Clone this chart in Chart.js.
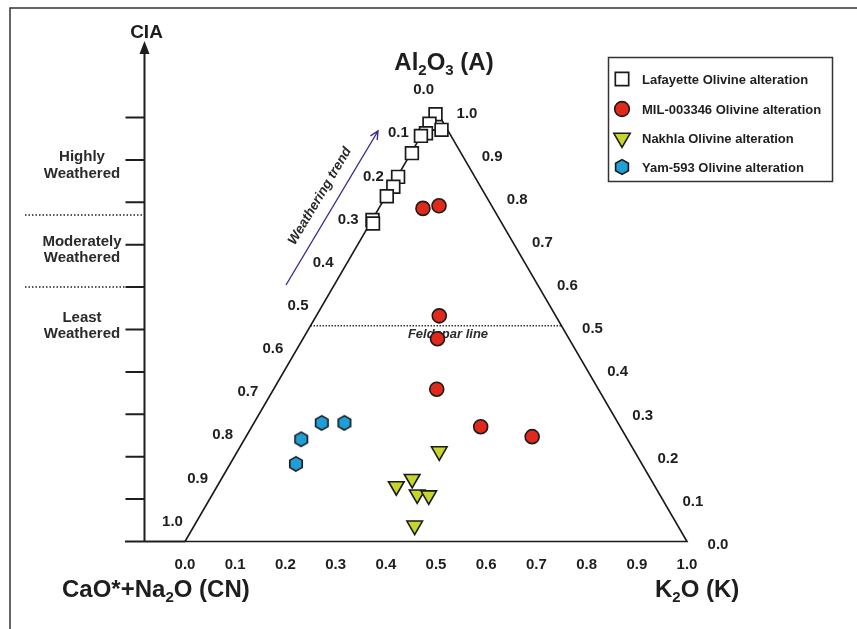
<!DOCTYPE html>
<html>
<head>
<meta charset="utf-8">
<script src="https://cdn.jsdelivr.net/npm/chart.js@4.4.0/dist/chart.umd.min.js"></script>
<style>
  html, body { margin: 0; padding: 0; background: #fff; }
  canvas { display: block; }
</style>
</head>
<body>
<canvas id="ternary" width="857" height="629"></canvas>
<script>
// ternary values, A = Al2O3, K = K2O, CN = 1 - A - K
const seriesNames = ['Lafayette Olivine alteration', 'MIL-003346 Olivine alteration', 'Nakhla Olivine alteration', 'Yam-593 Olivine alteration'];

const lafayetteA = [0.99, 0.968, 0.954, 0.946, 0.94, 0.90, 0.845, 0.822, 0.80, 0.745, 0.737];
const lafayetteK = [0.004, 0.003, 0.034, 0.007, 0.0, 0.002, 0.002, 0.004, 0.002, 0.001, 0.006];

const milA = [0.772, 0.778, 0.523, 0.47, 0.353, 0.266, 0.243];
const milK = [0.088, 0.117, 0.245, 0.268, 0.325, 0.456, 0.570];

const nakhlaA = [0.209, 0.145, 0.128, 0.109, 0.107, 0.037];
const nakhlaK = [0.402, 0.380, 0.357, 0.408, 0.432, 0.439];

const yamA = [0.275, 0.275, 0.237, 0.180];
const yamK = [0.135, 0.180, 0.113, 0.131];

const tickValues = [0.0, 0.1, 0.2, 0.3, 0.4, 0.5, 0.6, 0.7, 0.8, 0.9, 1.0];
const ciaTickCount = 10;
const feldsparA = 0.5;

const H = Math.sqrt(3) / 2;
function toXY(a, k) { return { x: k + a / 2, y: a * H }; }
function points(aList, kList) { return aList.map((a, i) => toXY(a, kList[i])); }

const FONT = '"Liberation Sans", Arial, sans-serif';
const INK = '#1e1e1e';

// hexagon marker for Yam-593
function hexMarker(r) {
  const c = document.createElement('canvas');
  const s = Math.ceil(r * 2 + 3);
  c.width = s; c.height = s;
  const g = c.getContext('2d');
  g.beginPath();
  for (let i = 0; i < 6; i++) {
    const ang = Math.PI / 2 + i * Math.PI / 3;
    g.lineTo(s / 2 + r * Math.cos(ang), s / 2 + r * Math.sin(ang));
  }
  g.closePath();
  g.fillStyle = '#1f9ed8';
  g.fill();
  g.lineWidth = 1.6;
  g.strokeStyle = '#1a1a1a';
  g.stroke();
  return c;
}
const hexPlot = hexMarker(7.2);
const hexLegend = hexMarker(7.4);

function richText(ctx, parts, x, y, size, align) {
  const big = 'bold ' + size + 'px ' + FONT;
  const small = 'bold ' + Math.round(size * 0.62) + 'px ' + FONT;
  let w = 0;
  parts.forEach(p => { ctx.font = p[1] ? small : big; w += ctx.measureText(p[0]).width; });
  let cx = align === 'center' ? x - w / 2 : x;
  ctx.textAlign = 'left';
  ctx.textBaseline = 'alphabetic';
  parts.forEach(p => {
    ctx.font = p[1] ? small : big;
    ctx.fillText(p[0], cx, p[1] ? y + size * 0.22 : y);
    cx += ctx.measureText(p[0]).width;
  });
}

const deco = {
  id: 'deco',
  beforeDatasetsDraw(chart) {
    const ctx = chart.ctx;
    const xs = chart.scales.x, ys = chart.scales.y;
    const px = (p) => [xs.getPixelForValue(p.x), ys.getPixelForValue(p.y)];
    const [cnX, baseY] = px(toXY(0, 0));
    ctx.save();

    // figure frame (top and left only)
    ctx.strokeStyle = '#333';
    ctx.lineWidth = 1.5;
    ctx.beginPath();
    ctx.moveTo(10, 629); ctx.lineTo(10, 8); ctx.lineTo(857, 8);
    ctx.stroke();

    // CIA axis
    const axX = cnX - 40.5;
    ctx.strokeStyle = INK;
    ctx.lineWidth = 2;
    ctx.beginPath();
    ctx.moveTo(cnX - 60, baseY); ctx.lineTo(cnX, baseY);
    ctx.moveTo(axX, baseY); ctx.lineTo(axX, 52);
    const step = 42.4;
    for (let i = 1; i <= ciaTickCount; i++) {
      ctx.moveTo(axX - 19, baseY - i * step); ctx.lineTo(axX, baseY - i * step);
    }
    ctx.stroke();
    ctx.fillStyle = INK;
    ctx.beginPath();
    ctx.moveTo(axX, 41); ctx.lineTo(axX - 5, 54); ctx.lineTo(axX + 5, 54); ctx.closePath();
    ctx.fill();
    ctx.font = 'bold 19px ' + FONT;
    ctx.textAlign = 'center';
    ctx.textBaseline = 'middle';
    ctx.fillText('CIA', axX + 2, 33);

    // weathering zones
    ctx.setLineDash([1.5, 2]);
    ctx.lineWidth = 1.5;
    ctx.beginPath();
    ctx.moveTo(25, 215); ctx.lineTo(axX, 215);
    ctx.moveTo(25, 287); ctx.lineTo(axX, 287);
    ctx.stroke();
    ctx.setLineDash([]);
    ctx.fillStyle = '#2a2a2a';
    ctx.font = 'bold 15px ' + FONT;
    [['Highly', 157], ['Weathered', 174], ['Moderately', 242], ['Weathered', 258], ['Least', 318], ['Weathered', 334]]
      .forEach(t => ctx.fillText(t[0], 82, t[1]));

    // axis tick labels
    ctx.fillStyle = INK;
    ctx.font = 'bold 15px ' + FONT;
    tickValues.forEach(v => {
      const label = v.toFixed(1);
      let p = px(toXY(0, v));
      ctx.fillText(label, p[0], p[1] + 23.5);
      const aL = 1 - v + 0.046;
      p = px({ x: aL / 2, y: aL * H });
      ctx.fillText(label, p[0] - 24, p[1]);
      const aR = v - 0.008;
      p = px({ x: 1 - aR / 2, y: aR * H });
      ctx.fillText(label, p[0] + 29, p[1]);
    });

    // axis titles
    richText(ctx, [['Al'], ['2', 1], ['O'], ['3', 1], [' (A)']], 444, 70, 24, 'center');
    richText(ctx, [['CaO*+Na'], ['2', 1], ['O (CN)']], 62, 597, 24, 'left');
    richText(ctx, [['K'], ['2', 1], ['O (K)']], 655, 597, 24, 'left');

    // feldspar line label
    const fp = px({ x: 0.5, y: feldsparA * H });
    ctx.font = 'italic bold 13px ' + FONT;
    ctx.textAlign = 'center';
    ctx.textBaseline = 'middle';
    ctx.fillStyle = '#2a2a2a';
    ctx.fillText('Feldspar line', fp[0] + 12, fp[1] + 9);

    // weathering trend arrow
    const t0 = [286, 285], t1 = [378, 131];
    const ang = Math.atan2(t1[1] - t0[1], t1[0] - t0[0]);
    ctx.strokeStyle = '#3b2f8c';
    ctx.lineWidth = 1.4;
    ctx.beginPath();
    ctx.moveTo(t0[0], t0[1]); ctx.lineTo(t1[0], t1[1]);
    ctx.moveTo(t1[0] - 9 * Math.cos(ang - 0.45), t1[1] - 9 * Math.sin(ang - 0.45));
    ctx.lineTo(t1[0], t1[1]);
    ctx.lineTo(t1[0] - 9 * Math.cos(ang + 0.45), t1[1] - 9 * Math.sin(ang + 0.45));
    ctx.stroke();
    ctx.save();
    ctx.translate(320, 196);
    ctx.rotate(ang);
    ctx.font = 'italic bold 13.5px ' + FONT;
    ctx.fillStyle = '#2a2a2a';
    ctx.fillText('Weathering trend', 0, 0);
    ctx.restore();

    ctx.restore();
  },
  afterDraw(chart) {
    const ctx = chart.ctx;
    ctx.save();
    ctx.strokeStyle = '#333';
    ctx.lineWidth = 1.5;
    ctx.strokeRect(608.5, 57.5, 224, 124);
    const rows = [79, 109, 138, 167];
    ctx.font = 'bold 13px ' + FONT;
    ctx.textAlign = 'left';
    ctx.textBaseline = 'middle';
    rows.forEach((y, i) => {
      const o = chart.getDatasetMeta(i).data[0].options;
      const style = i === 3 ? hexLegend : o.pointStyle;
      ctx.fillStyle = o.backgroundColor;
      ctx.strokeStyle = o.borderColor;
      ctx.lineWidth = o.borderWidth;
      Chart.helpers.drawPoint(ctx, { pointStyle: style, radius: o.radius * 1.05, rotation: o.rotation, borderWidth: o.borderWidth }, 622, y);
      ctx.fillStyle = INK;
      ctx.fillText(seriesNames[i], 642, y + 1);
    });
    ctx.restore();
  }
};

new Chart(document.getElementById('ternary'), {
  type: 'scatter',
  data: {
    datasets: [
      {
        label: seriesNames[0], data: points(lafayetteA, lafayetteK),
        pointStyle: 'rect', pointRadius: 9, backgroundColor: '#ffffff',
        borderColor: '#1a1a1a', borderWidth: 1.7
      },
      {
        label: seriesNames[1], data: points(milA, milK),
        pointStyle: 'circle', pointRadius: 7, backgroundColor: '#e0281b',
        borderColor: '#1a1a1a', borderWidth: 1.6
      },
      {
        label: seriesNames[2], data: points(nakhlaA, nakhlaK),
        pointStyle: 'triangle', pointRotation: 180, pointRadius: 9, backgroundColor: '#c6d52a',
        borderColor: '#1a1a1a', borderWidth: 1.6
      },
      {
        label: seriesNames[3], data: points(yamA, yamK),
        pointStyle: hexPlot, pointRadius: 7, backgroundColor: '#1f9ed8',
        borderColor: '#1a1a1a', borderWidth: 1.6
      },
      {
        label: 'outline', type: 'line', order: 2,
        data: [toXY(0, 0), toXY(0, 1), toXY(1, 0), toXY(0, 0)],
        borderColor: '#1a1a1a', borderWidth: 1.6, pointRadius: 0, fill: false
      },
      {
        label: 'feldspar', type: 'line', order: 2,
        data: [toXY(feldsparA, 0), toXY(feldsparA, 1 - feldsparA)],
        borderColor: '#333', borderWidth: 1.3, borderDash: [1.5, 1.5], pointRadius: 0, fill: false
      }
    ]
  },
  options: {
    responsive: false,
    animation: false,
    layout: { padding: 0, autoPadding: false },
    plugins: { legend: { display: false }, tooltip: { enabled: false } },
    scales: {
      x: { type: 'linear', min: -0.3685, max: 1.3386, display: false },
      y: { type: 'linear', min: -0.1756, max: 1.0868, display: false }
    }
  },
  plugins: [deco]
});
</script>
</body>
</html>
